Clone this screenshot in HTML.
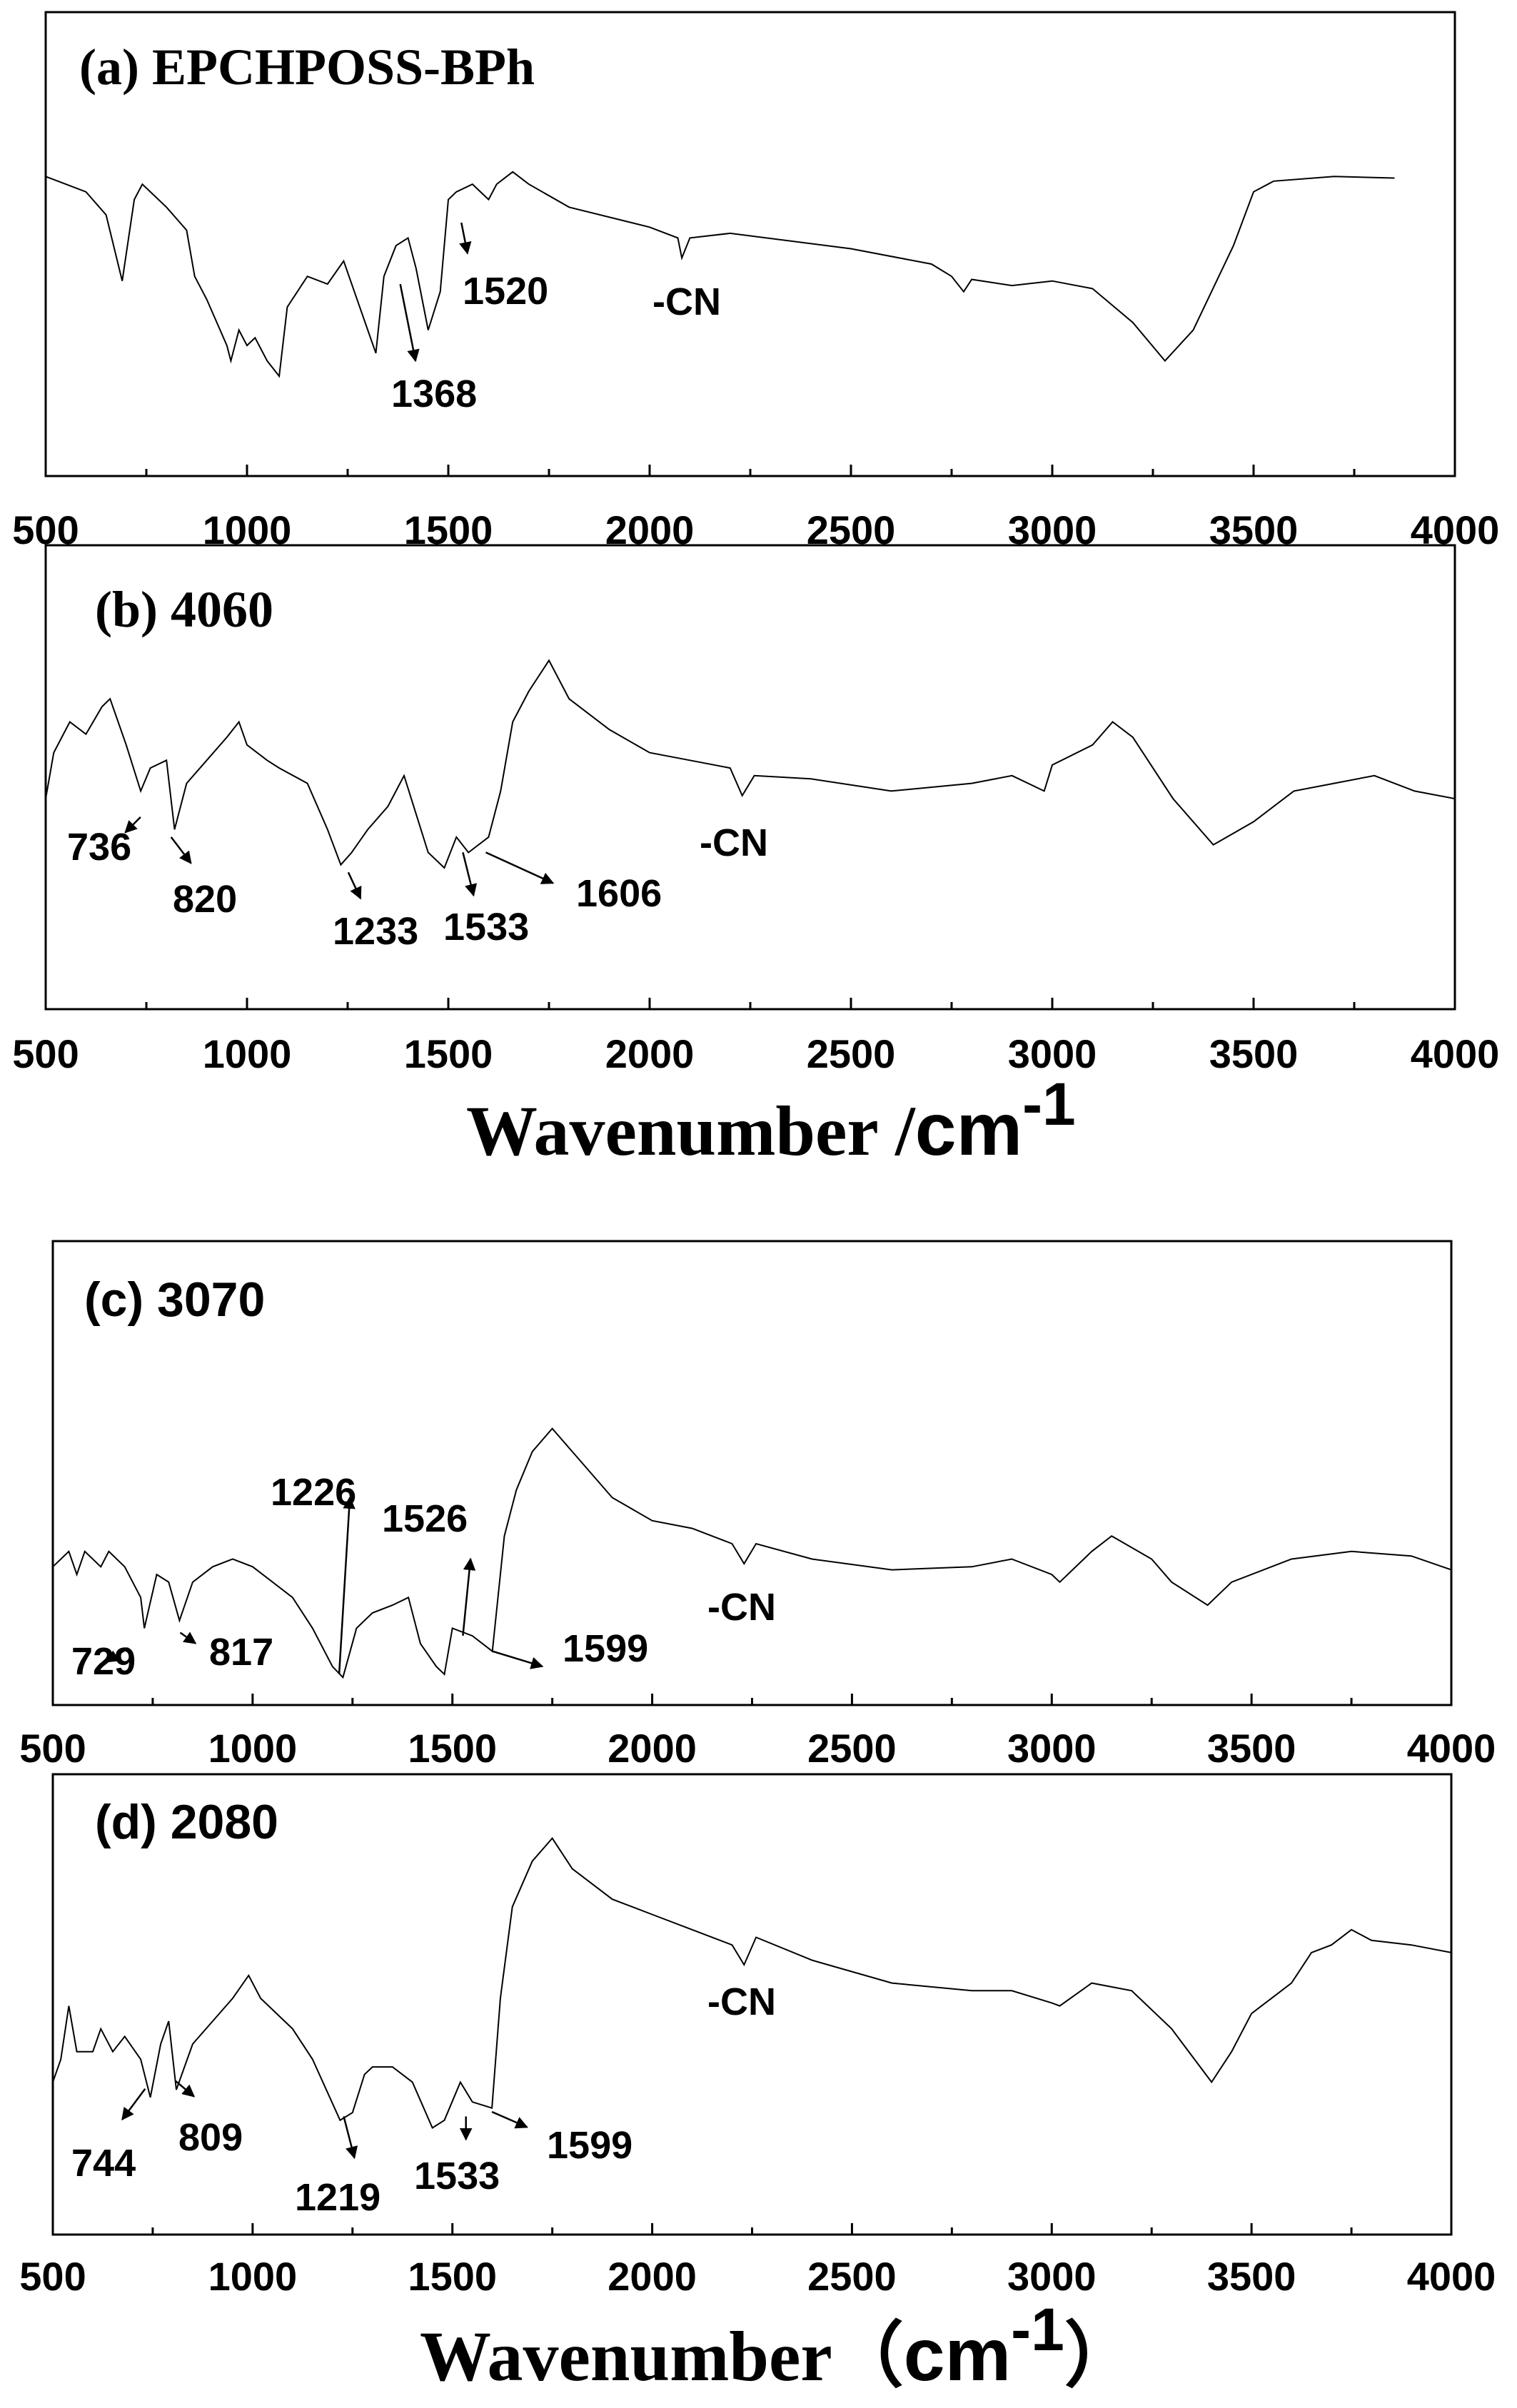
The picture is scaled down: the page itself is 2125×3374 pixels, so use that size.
<!DOCTYPE html>
<html><head><meta charset="utf-8"><style>
html,body{margin:0;padding:0;background:#fff}
svg{display:block}
.tick{font-family:"Liberation Sans",sans-serif;font-weight:bold;font-size:56px;fill:#000}
.ann{font-family:"Liberation Sans",sans-serif;font-weight:bold;font-size:54px;fill:#000}
.ttl-serif{font-family:"Liberation Serif",serif;font-weight:bold;font-size:72px}
.ttl-sans{font-family:"Liberation Sans",sans-serif;font-weight:bold;font-size:68px}
.axt{font-family:"Liberation Serif",serif;font-weight:bold;font-size:100px}
</style></head><body>
<svg id="chart" width="2125" height="3374" viewBox="0 0 2125 3374" xmlns="http://www.w3.org/2000/svg">
<defs><marker id="ah" viewBox="0 0 10 10" refX="9" refY="5" markerWidth="7" markerHeight="7" orient="auto"><path d="M0,0 L10,5 L0,10 z" fill="#000"/></marker></defs>
</svg>
<script>
// Spectrum data: [wavenumber, relative transmittance (a.u.)]
const specA=[[500,195],[600,185],[650,170],[690,127],[720,180],[740,190],[800,175],[850,160],[870,130],[900,115],[950,85],[960,75],[980,95],[1000,85],[1020,90],[1050,75],[1080,65],[1100,110],[1150,130],[1200,125],[1240,140],[1280,110],[1320,80],[1340,130],[1370,150],[1400,155],[1420,135],[1450,95],[1480,120],[1500,180],[1520,185],[1560,190],[1600,180],[1620,190],[1660,198],[1700,190],[1800,175],[2000,162],[2070,155],[2080,142],[2100,155],[2200,158],[2500,148],[2700,138],[2750,130],[2780,120],[2800,128],[2900,124],[3000,127],[3100,122],[3200,100],[3280,75],[3350,95],[3450,150],[3500,185],[3550,192],[3700,195],[3850,194]];
const specB=[[500,137],[520,167],[560,187],[600,179],[640,197],[660,202],[700,172],[736,142],[760,157],[800,162],[820,117],[850,147],[900,162],[950,177],[980,187],[1000,172],[1050,162],[1080,157],[1150,147],[1200,117],[1233,94],[1260,102],[1300,117],[1350,132],[1390,152],[1420,127],[1450,102],[1490,92],[1520,112],[1550,102],[1600,112],[1630,142],[1660,187],[1700,207],[1750,227],[1800,202],[1900,182],[2000,167],[2100,162],[2200,157],[2230,139],[2260,152],[2400,150],[2600,142],[2800,147],[2900,152],[2980,142],[3000,159],[3100,172],[3150,187],[3200,177],[3300,137],[3400,107],[3500,122],[3600,142],[3700,147],[3800,152],[3900,142],[4000,137]];
const specC=[[500,90],[540,100],[560,85],[580,100],[620,90],[640,100],[680,90],[720,70],[729,50],[760,85],[790,80],[817,55],[850,80],[900,90],[950,95],[1000,90],[1100,70],[1150,50],[1200,25],[1226,18],[1260,50],[1300,60],[1350,65],[1390,70],[1420,40],[1460,25],[1480,20],[1500,50],[1550,45],[1600,35],[1630,110],[1660,140],[1700,165],[1750,180],[1800,165],[1900,135],[2000,120],[2100,115],[2200,105],[2230,92],[2260,105],[2400,95],[2600,88],[2800,90],[2900,95],[3000,85],[3020,80],[3100,100],[3150,110],[3250,95],[3300,80],[3390,65],[3450,80],[3600,95],[3750,100],[3900,97],[4000,88]];
const specD=[[500,100],[520,115],[540,150],[560,120],[600,120],[620,135],[650,120],[680,130],[720,115],[744,90],[770,125],[790,140],[809,95],[850,125],[900,140],[950,155],[990,170],[1020,155],[1100,135],[1150,115],[1219,75],[1250,80],[1280,105],[1300,110],[1350,110],[1400,100],[1450,70],[1480,75],[1520,100],[1550,87],[1599,83],[1620,155],[1650,215],[1700,245],[1750,260],[1800,240],[1900,220],[2000,210],[2100,200],[2200,190],[2230,177],[2260,195],[2400,180],[2600,165],[2800,160],[2900,160],[3000,152],[3020,150],[3100,165],[3200,160],[3300,135],[3400,100],[3450,120],[3500,145],[3600,165],[3650,185],[3700,190],[3750,200],[3800,193],[3900,190],[4000,185]];
const tickLabels=["500","1000","1500","2000","2500","3000","3500","4000"];
const majorTicks=[500,1000,1500,2000,2500,3000,3500,4000];
const minorTicks=[750,1250,1750,2250,2750,3250,3750];

const NS="http://www.w3.org/2000/svg";
const svg=document.getElementById('chart');
function mk(tag,attrs,parent){const e=document.createElementNS(NS,tag);for(const k in attrs)e.setAttribute(k,attrs[k]);(parent||svg).appendChild(e);return e;}

const panels=[
 {id:'a',data:specA,L:64,R:2038,T:17,B:667,lab:762},
 {id:'b',data:specB,L:64,R:2038,T:764,B:1414,lab:1496},
 {id:'c',data:specC,L:74,R:2033,T:1739,B:2389,lab:2469},
 {id:'d',data:specD,L:74,R:2033,T:2486,B:3131,lab:3209}
];
panels.forEach(p=>{
  const g=mk('g',{});
  
  
  const xs=w=>p.L+(w-500)/3500*(p.R-p.L);
  const ys=v=>p.B-v/302*(p.B-p.T);
  const fr=mk('rect',{x:p.L,y:p.T,width:p.R-p.L,height:p.B-p.T,fill:'none',stroke:'#000','stroke-width':3},g);
  
  
  majorTicks.forEach((t,i)=>{
    mk('line',{x1:xs(t),x2:xs(t),y1:p.B,y2:p.B-16,stroke:'#000','stroke-width':3},g);
    const tx=mk('text',{x:xs(t),y:p.lab,'text-anchor':'middle',class:'tick'},g);
    tx.textContent=tickLabels[i];
    
    
  });
  minorTicks.forEach(t=>mk('line',{x1:xs(t),x2:xs(t),y1:p.B,y2:p.B-10,stroke:'#000','stroke-width':3},g));
  let d='';
  p.data.forEach((pt,i)=>{d+=(i?'L':'M')+xs(pt[0]).toFixed(1)+','+ys(pt[1]).toFixed(1);});
  const ln=mk('path',{d:d,fill:'none',stroke:'#000','stroke-width':2},g);
  
  
});

// Titles
const titles=[['(a) EPCHPOSS-BPh',111,118,'ttl-serif'],['(b) 4060',133,878,'ttl-serif'],['(c) 3070',118,1844,'ttl-sans'],['(d) 2080',133,2576,'ttl-sans']];
titles.forEach(t=>{const e=mk('text',{x:t[1],y:t[2],class:t[3]});e.textContent=t[0];
 
 });

// Annotations
const S=2.14,V=2.152;
const anns=[
 ['1520',648,426,302,145,306,165],['1368',548,570,262,185,272,235],['-CN',914,441],
 ['736',94,1205,92,532,82,542],['820',242,1278,112,545,125,562],['1233',466,1323,228,568,236,585],['1533',621,1317,303,555,310,583],['1606',807,1270,318,555,362,575],['-CN',980,1199],
 ['729',100,2346,84,1073,70,1082],['817',293,2333,118,1063,128,1070],['1226',379,2109,222,1090,229,975],['1526',535,2146,303,1065,308,1015],['1599',788,2328,322,1075,355,1085],['-CN',991,2270],
 ['744',100,3049,95,1360,80,1380],['809',250,3013,115,1355,127,1365],['1219',413,3097,225,1378,232,1405],['1533',580,3067,305,1378,305,1393],['1599',766,3024,322,1375,345,1385],['-CN',991,2823]
];
anns.forEach(a=>{
 const e=mk('text',{x:a[1],y:a[2],class:'ann'});e.textContent=a[0];
 
 
 if(a.length>3){
  const l=mk('line',{x1:a[3]*S,y1:a[4]*V,x2:a[5]*S,y2:a[6]*V,stroke:'#000','stroke-width':2.5,'marker-end':'url(#ah)'});
  
  
 }
});

// Axis titles
const t1=mk('text',{x:653,y:1618,class:'axt'});
t1.innerHTML='Wavenumber /<tspan font-family="Liberation Sans, sans-serif" font-size="104">cm</tspan><tspan font-family="Liberation Sans, sans-serif" font-size="84" dy="-42">-1</tspan>';


const t2=mk('text',{x:588,y:3335,class:'axt'});
t2.innerHTML='Wavenumber（<tspan font-family="Liberation Sans, sans-serif" font-size="104">cm</tspan><tspan font-family="Liberation Sans, sans-serif" font-size="84" dy="-42">-1</tspan><tspan dy="42">）</tspan>';


</script>
</body></html>
